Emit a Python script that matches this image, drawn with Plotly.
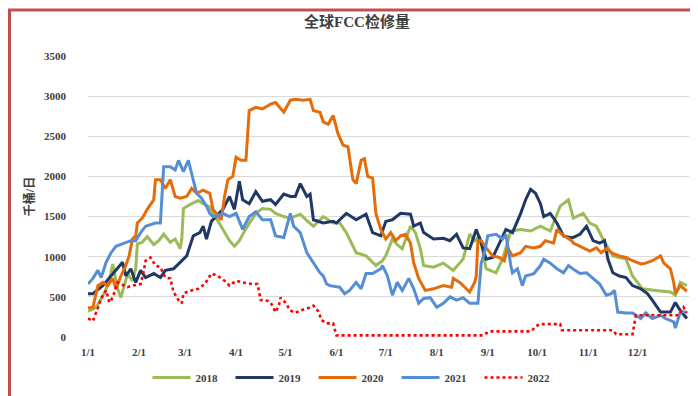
import plotly.graph_objects as go

# ---- data (day of year offset from 1/1, value in 千桶/日) ----
d2018 = [0,5,10,13,15,18,20,22,24,27,29,30,33,36,40,43,46,50,53,56,57,58,62,67,70,74,79,83,86,89,92,96,102,106,111,114,119,123,129,133,137,143,149,153,157,163,169,175,179,181,185,188,191,196,199,202,204,210,216,222,226,228,232,235,238,242,248,252,257,263,269,275,281,287,292,295,301,305,309,313,319,327,331,337,345,354,357,360,364]
v2018 = [320,370,550,700,910,600,490,650,790,700,850,1160,1180,1250,1150,1200,1280,1180,1220,1100,1220,1600,1650,1700,1660,1620,1450,1300,1200,1130,1200,1350,1540,1600,1590,1540,1500,1480,1530,1450,1380,1500,1420,1420,1300,1050,1010,890,950,1010,1220,1150,1100,1380,1300,1100,890,870,920,830,920,970,1280,1200,1260,850,800,970,1320,1340,1320,1380,1320,1630,1710,1480,1540,1420,1380,1220,1010,970,760,600,580,560,520,680,640]

d2019 = [0,3,9,15,21,23,26,29,32,35,40,44,47,52,56,60,64,68,70,72,75,76,82,86,89,92,94,98,102,106,111,114,119,123,126,129,133,135,137,143,149,151,157,163,169,173,178,181,185,190,196,198,202,204,210,216,220,224,228,232,236,239,242,246,250,254,258,263,266,269,272,275,277,281,285,289,293,295,299,303,307,311,314,316,319,323,327,331,336,340,343,348,354,357,360,364]
v2019 = [540,540,640,790,930,760,850,680,830,740,790,740,830,850,930,1010,1260,1300,1380,1220,1440,1460,1590,1750,1590,1940,1710,1660,1810,1690,1710,1650,1780,1750,1750,1910,1750,1780,1460,1420,1440,1420,1540,1460,1530,1300,1260,1440,1460,1540,1530,1380,1420,1300,1220,1230,1200,1280,1110,1100,1340,1170,970,990,1170,1340,1300,1540,1710,1840,1790,1660,1500,1540,1420,1260,1240,1240,1280,1380,1200,1170,1200,970,800,760,740,640,600,540,460,310,310,430,330,230]

d2020 = [0,3,6,9,12,15,17,20,23,25,27,29,30,33,36,40,41,44,47,50,53,56,60,63,66,70,74,76,78,81,83,85,88,90,93,96,98,102,106,111,114,119,123,126,131,135,137,141,143,146,149,152,155,158,161,163,166,168,170,173,175,178,181,184,187,190,193,196,198,201,205,210,216,221,222,226,229,232,235,236,237,239,242,246,250,253,255,258,263,266,271,275,278,283,285,288,291,294,295,299,305,309,312,315,319,323,327,331,336,339,343,348,350,354,356,357,360,364]
v2020 = [360,370,640,680,640,730,600,760,890,1010,1220,1260,1420,1480,1590,1710,1960,1960,1850,1960,1750,1730,1750,1850,1790,1830,1790,1590,1540,1460,1750,1960,2000,2240,2200,2200,2820,2860,2840,2900,2920,2800,2950,2960,2950,2960,2820,2800,2680,2650,2760,2530,2390,2370,1960,1910,2200,2220,2000,1980,1540,1340,1220,1300,1200,1260,1280,1170,920,730,580,600,640,620,730,680,620,560,680,760,1200,1200,1110,1010,990,950,1110,1010,1050,1130,1110,1130,1200,1170,1340,1280,1240,1200,1170,1130,1070,1110,1050,1100,1040,1010,990,950,910,920,950,1010,920,850,680,540,640,570]

d2021 = [0,3,6,8,11,14,17,21,26,29,32,35,38,41,44,46,50,53,55,58,61,64,66,69,72,74,76,78,82,86,90,94,98,102,106,111,114,119,123,125,129,133,137,141,143,145,147,153,156,159,163,166,169,173,178,179,182,185,188,191,195,198,201,204,208,212,216,220,224,228,232,237,239,241,243,248,252,254,257,258,261,264,266,271,275,277,281,285,289,292,296,299,303,307,311,315,318,320,322,327,331,336,339,343,348,351,356,357,360,364]
v2021 = [660,730,830,740,930,1050,1130,1160,1200,1200,1300,1380,1400,1420,1420,2120,2120,2080,2200,2060,2200,1960,1790,1730,1630,1540,1500,1500,1540,1500,1540,1340,1500,1560,1460,1460,1260,1240,1540,1380,1300,1050,920,800,760,660,640,620,540,580,680,600,790,790,850,890,760,520,680,580,730,600,420,480,490,370,420,500,460,490,420,420,920,1050,1260,1280,1220,1280,890,800,850,640,760,790,890,970,920,850,800,890,830,790,800,730,660,520,540,580,310,300,300,230,300,230,270,230,190,110,310,310]

d2022 = [0,3,6,8,11,13,15,18,21,24,27,32,34,35,38,41,44,47,50,52,55,57,58,61,67,71,75,79,83,86,90,94,100,103,105,108,111,114,116,117,120,123,126,129,134,137,140,142,145,149,151,240,244,269,274,287,288,319,321,331,333,359,362,364]
v2022 = [230,200,360,480,580,430,490,680,650,620,640,660,830,950,990,890,870,740,730,560,460,420,540,570,600,660,790,760,700,640,700,680,660,660,460,460,430,310,390,490,430,330,300,330,360,390,320,210,170,170,20,20,70,70,160,160,85,85,35,35,270,270,370,300]

years = ["2018", "2019", "2020", "2021", "2022"]
colors = ["#9BBB59", "#1F3864", "#E46C0A", "#558ED5", "#FF0000"]
month_starts = [0, 31, 59, 90, 120, 151, 181, 212, 243, 273, 304, 334]
month_labels = ["1/1", "2/1", "3/1", "4/1", "5/1", "6/1", "7/1", "8/1", "9/1", "10/1", "11/1", "12/1"]

series = [(d2018, v2018), (d2019, v2019), (d2020, v2020), (d2021, v2021), (d2022, v2022)]

fig = go.Figure()
for (dx, vy), name, col in zip(series, years, colors):
    dash = "dot" if name == "2022" else "solid"
    fig.add_trace(go.Scatter(x=dx, y=vy, mode="lines", name=name,
                             line=dict(color=col, width=3 if name != "2022" else 2.6, dash=dash)))

serif = "Liberation Serif, Noto Sans CJK SC, serif"
W, H = 698, 396
L, R, T, B = 80, 17, 48, 64
pw, ph = W - L - R, H - T - B

fig.update_layout(
    width=W, height=H,
    margin=dict(l=L, r=R, t=T, b=B),
    paper_bgcolor="white", plot_bgcolor="white",
    title=dict(text="全球FCC检修量", x=(349) / W, xanchor="center", y=1 - 14 / H, yanchor="middle",
               font=dict(family=serif, size=15, color="#404040", weight="bold")),
    showlegend=True,
    legend=dict(orientation="h", x=(347 - L) / pw, xanchor="center", y=-(373 - (H - B)) / ph, yanchor="middle",
                font=dict(family=serif, size=11, color="#404040", weight="bold"),
                entrywidth=30, entrywidthmode="pixels", itemwidth=38, tracegroupgap=0),
    xaxis=dict(range=[0, 365.3], tickvals=month_starts, ticktext=month_labels, showgrid=False,
               zeroline=False, showline=False, ticks="", ticklabelstandoff=7,
               tickfont=dict(family=serif, size=11, color="#404040", weight="bold")),
    yaxis=dict(range=[0, 3500], dtick=500, gridcolor="#D9D9D9", gridwidth=1, zeroline=False,
               showline=False, ticks="", ticklabelstandoff=21,
               tickfont=dict(family=serif, size=11, color="#404040", weight="bold"),
               title=dict(text="千桶/日", standoff=6,
                          font=dict(family=serif, size=12, color="#404040", weight="bold"))),
    shapes=[dict(type="rect", xref="paper", yref="paper",
                 x0=(1.5 - L) / pw, x1=(W - 1.5 - L) / pw,
                 y0=-(H - 1.5 - (H - B)) / ph, y1=((H - B) - 1.5) / ph,
                 line=dict(color="#C0504D", width=3), layer="above")],
)

fig.write_html("out.html")
